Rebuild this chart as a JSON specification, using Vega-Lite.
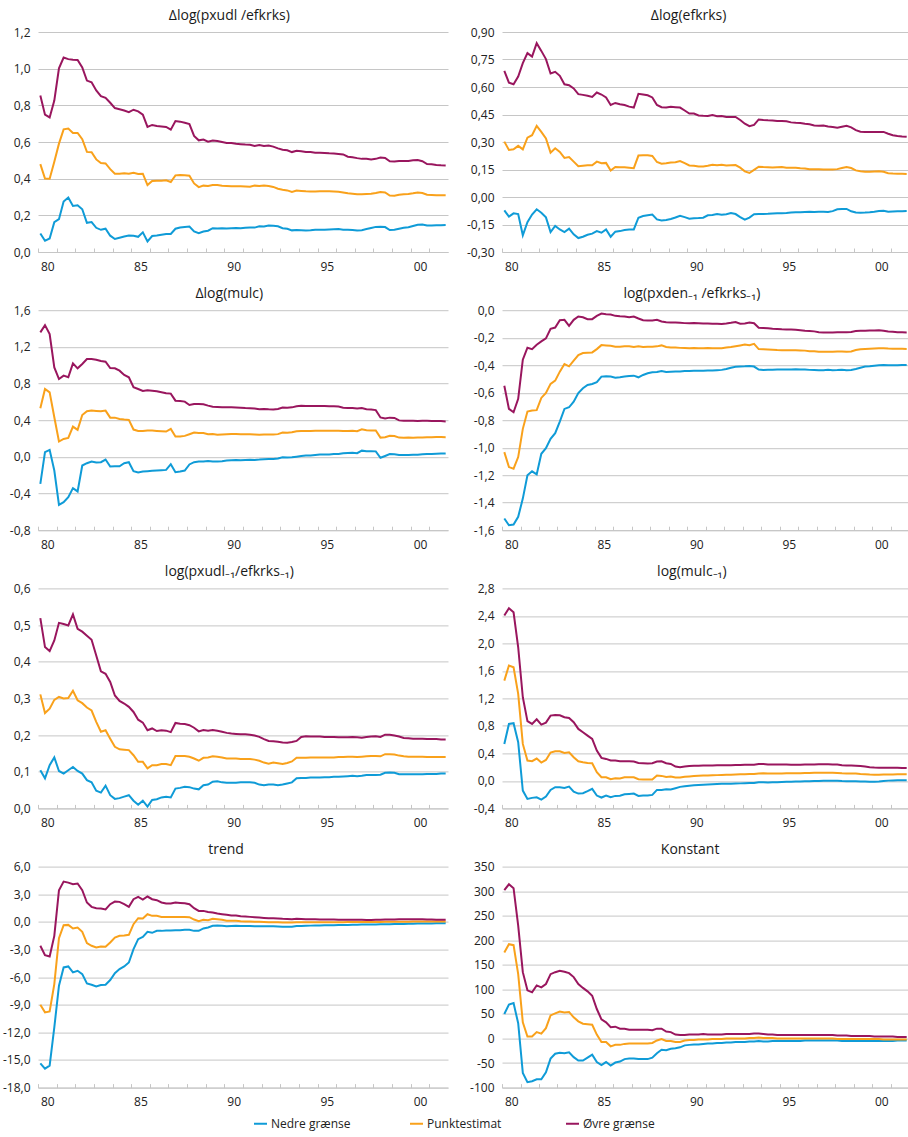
{
"$schema":"https://vega.github.io/schema/vega-lite/v6.json",
"padding":{"left":2,"top":8,"right":0,"bottom":20},
"config":{
"locale":{"number":{"decimal":",","thousands":".","grouping":[3],"currency":["",""],"minus":"-"}},
"font":"Open Sans",
"view":{"stroke":null},
"title":{"fontSize":14,"fontWeight":"normal","color":"#1a1a1a","offset":3.5,"anchor":"middle","frame":"bounds"},
"axisY":{"grid":true,"gridColor":"#c6c6c6","gridWidth":1,"domain":false,"ticks":false,"labelFontSize":12,"labelColor":"#222222","labelPadding":8,"minExtent":29,"maxExtent":29},
"axisX":{"grid":false,"domain":true,"domainColor":"#c6c6c6","ticks":true,"tickColor":"#c6c6c6","tickSize":-4,"labelPadding":13,"labelOffset":9.3,"labelFlush":false,"labelOverlap":false,"labelFontSize":12,"labelColor":"#222222"},
"legend":{"orient":"none","legendX":215,"legendY":1084,"direction":"horizontal","symbolType":"stroke","symbolStrokeWidth":2,"symbolSize":169,"labelFontSize":12,"labelColor":"#222222","labelOffset":3,"columnPadding":55,"gridAlign":"all","title":null}
},
"datasets":{
"a":[
{"t":1980.125,"lo":0.101,"pe":0.479,"hi":0.854},{"t":1980.375,"lo":0.061,"pe":0.401,"hi":0.749},{"t":1980.625,"lo":0.074,"pe":0.400,"hi":0.734},{"t":1980.875,"lo":0.163,"pe":0.492,"hi":0.826},
{"t":1981.125,"lo":0.179,"pe":0.591,"hi":1.002},{"t":1981.375,"lo":0.275,"pe":0.669,"hi":1.061},{"t":1981.625,"lo":0.297,"pe":0.673,"hi":1.052},{"t":1981.875,"lo":0.251,"pe":0.649,"hi":1.049},
{"t":1982.125,"lo":0.255,"pe":0.649,"hi":1.047},{"t":1982.375,"lo":0.233,"pe":0.615,"hi":1.007},{"t":1982.625,"lo":0.159,"pe":0.546,"hi":0.935},{"t":1982.875,"lo":0.163,"pe":0.544,"hi":0.926},
{"t":1983.125,"lo":0.132,"pe":0.505,"hi":0.881},{"t":1983.375,"lo":0.121,"pe":0.485,"hi":0.850},{"t":1983.625,"lo":0.127,"pe":0.483,"hi":0.841},{"t":1983.875,"lo":0.089,"pe":0.452,"hi":0.814},
{"t":1984.125,"lo":0.071,"pe":0.427,"hi":0.785},{"t":1984.375,"lo":0.078,"pe":0.427,"hi":0.779},{"t":1984.625,"lo":0.085,"pe":0.429,"hi":0.772},{"t":1984.875,"lo":0.090,"pe":0.427,"hi":0.763},
{"t":1985.125,"lo":0.089,"pe":0.432,"hi":0.776},{"t":1985.375,"lo":0.083,"pe":0.425,"hi":0.767},{"t":1985.625,"lo":0.107,"pe":0.427,"hi":0.749},{"t":1985.875,"lo":0.058,"pe":0.365,"hi":0.682},
{"t":1986.125,"lo":0.087,"pe":0.387,"hi":0.693},{"t":1986.375,"lo":0.090,"pe":0.389,"hi":0.687},{"t":1986.625,"lo":0.094,"pe":0.389,"hi":0.685},{"t":1986.875,"lo":0.098,"pe":0.391,"hi":0.682},
{"t":1987.125,"lo":0.098,"pe":0.382,"hi":0.667},{"t":1987.375,"lo":0.127,"pe":0.418,"hi":0.714},{"t":1987.625,"lo":0.134,"pe":0.420,"hi":0.711},{"t":1987.875,"lo":0.137,"pe":0.418,"hi":0.705},
{"t":1988.125,"lo":0.139,"pe":0.416,"hi":0.698},{"t":1988.375,"lo":0.112,"pe":0.374,"hi":0.633},{"t":1988.625,"lo":0.103,"pe":0.354,"hi":0.609},{"t":1988.875,"lo":0.112,"pe":0.362,"hi":0.613},
{"t":1989.125,"lo":0.116,"pe":0.360,"hi":0.602},{"t":1989.375,"lo":0.130,"pe":0.365,"hi":0.608},{"t":1989.625,"lo":0.128,"pe":0.366,"hi":0.605},{"t":1989.875,"lo":0.130,"pe":0.362,"hi":0.600},
{"t":1990.125,"lo":0.128,"pe":0.360,"hi":0.595},{"t":1990.375,"lo":0.130,"pe":0.358,"hi":0.595},{"t":1990.625,"lo":0.131,"pe":0.358,"hi":0.590},{"t":1990.875,"lo":0.130,"pe":0.358,"hi":0.588},
{"t":1991.125,"lo":0.132,"pe":0.357,"hi":0.586},{"t":1991.375,"lo":0.134,"pe":0.356,"hi":0.585},{"t":1991.625,"lo":0.133,"pe":0.362,"hi":0.578},{"t":1991.875,"lo":0.140,"pe":0.360,"hi":0.583},
{"t":1992.125,"lo":0.139,"pe":0.363,"hi":0.578},{"t":1992.375,"lo":0.145,"pe":0.360,"hi":0.581},{"t":1992.625,"lo":0.143,"pe":0.355,"hi":0.575},{"t":1992.875,"lo":0.140,"pe":0.345,"hi":0.565},
{"t":1993.125,"lo":0.130,"pe":0.340,"hi":0.558},{"t":1993.375,"lo":0.127,"pe":0.336,"hi":0.555},{"t":1993.625,"lo":0.118,"pe":0.328,"hi":0.545},{"t":1993.875,"lo":0.120,"pe":0.335,"hi":0.552},
{"t":1994.125,"lo":0.119,"pe":0.333,"hi":0.550},{"t":1994.375,"lo":0.117,"pe":0.331,"hi":0.546},{"t":1994.625,"lo":0.118,"pe":0.330,"hi":0.545},{"t":1994.875,"lo":0.121,"pe":0.330,"hi":0.542},
{"t":1995.125,"lo":0.122,"pe":0.332,"hi":0.541},{"t":1995.375,"lo":0.122,"pe":0.331,"hi":0.540},{"t":1995.625,"lo":0.123,"pe":0.331,"hi":0.538},{"t":1995.875,"lo":0.124,"pe":0.330,"hi":0.537},
{"t":1996.125,"lo":0.125,"pe":0.329,"hi":0.535},{"t":1996.375,"lo":0.122,"pe":0.325,"hi":0.532},{"t":1996.625,"lo":0.122,"pe":0.320,"hi":0.520},{"t":1996.875,"lo":0.120,"pe":0.318,"hi":0.517},
{"t":1997.125,"lo":0.117,"pe":0.315,"hi":0.512},{"t":1997.375,"lo":0.119,"pe":0.315,"hi":0.508},{"t":1997.625,"lo":0.125,"pe":0.317,"hi":0.508},{"t":1997.875,"lo":0.131,"pe":0.318,"hi":0.505},
{"t":1998.125,"lo":0.137,"pe":0.322,"hi":0.508},{"t":1998.375,"lo":0.138,"pe":0.327,"hi":0.515},{"t":1998.625,"lo":0.136,"pe":0.325,"hi":0.513},{"t":1998.875,"lo":0.120,"pe":0.308,"hi":0.495},
{"t":1999.125,"lo":0.121,"pe":0.307,"hi":0.494},{"t":1999.375,"lo":0.127,"pe":0.312,"hi":0.497},{"t":1999.625,"lo":0.132,"pe":0.315,"hi":0.497},{"t":1999.875,"lo":0.135,"pe":0.316,"hi":0.497},
{"t":2000.125,"lo":0.142,"pe":0.320,"hi":0.500},{"t":2000.375,"lo":0.149,"pe":0.325,"hi":0.502},{"t":2000.625,"lo":0.150,"pe":0.322,"hi":0.495},{"t":2000.875,"lo":0.145,"pe":0.312,"hi":0.480},
{"t":2001.125,"lo":0.145,"pe":0.311,"hi":0.478},{"t":2001.375,"lo":0.146,"pe":0.310,"hi":0.475},{"t":2001.625,"lo":0.146,"pe":0.310,"hi":0.473},{"t":2001.875,"lo":0.147,"pe":0.310,"hi":0.472}
],
"b":[
{"t":1980.125,"lo":-0.073,"pe":0.302,"hi":0.688},{"t":1980.375,"lo":-0.107,"pe":0.257,"hi":0.624},{"t":1980.625,"lo":-0.089,"pe":0.260,"hi":0.615},{"t":1980.875,"lo":-0.093,"pe":0.279,"hi":0.657},
{"t":1981.125,"lo":-0.209,"pe":0.260,"hi":0.730},{"t":1981.375,"lo":-0.137,"pe":0.324,"hi":0.785},{"t":1981.625,"lo":-0.096,"pe":0.337,"hi":0.766},{"t":1981.875,"lo":-0.067,"pe":0.388,"hi":0.839},
{"t":1982.125,"lo":-0.086,"pe":0.355,"hi":0.797},{"t":1982.375,"lo":-0.111,"pe":0.320,"hi":0.752},{"t":1982.625,"lo":-0.191,"pe":0.242,"hi":0.674},{"t":1982.875,"lo":-0.158,"pe":0.266,"hi":0.683},
{"t":1983.125,"lo":-0.177,"pe":0.246,"hi":0.661},{"t":1983.375,"lo":-0.191,"pe":0.213,"hi":0.615},{"t":1983.625,"lo":-0.173,"pe":0.218,"hi":0.610},{"t":1983.875,"lo":-0.204,"pe":0.193,"hi":0.592},
{"t":1984.125,"lo":-0.224,"pe":0.168,"hi":0.561},{"t":1984.375,"lo":-0.217,"pe":0.171,"hi":0.557},{"t":1984.625,"lo":-0.206,"pe":0.173,"hi":0.552},{"t":1984.875,"lo":-0.200,"pe":0.173,"hi":0.546},
{"t":1985.125,"lo":-0.186,"pe":0.193,"hi":0.570},{"t":1985.375,"lo":-0.195,"pe":0.184,"hi":0.559},{"t":1985.625,"lo":-0.177,"pe":0.186,"hi":0.543},{"t":1985.875,"lo":-0.217,"pe":0.144,"hi":0.502},
{"t":1986.125,"lo":-0.189,"pe":0.164,"hi":0.513},{"t":1986.375,"lo":-0.186,"pe":0.162,"hi":0.506},{"t":1986.625,"lo":-0.180,"pe":0.162,"hi":0.502},{"t":1986.875,"lo":-0.177,"pe":0.160,"hi":0.493},
{"t":1987.125,"lo":-0.177,"pe":0.157,"hi":0.488},{"t":1987.375,"lo":-0.113,"pe":0.226,"hi":0.563},{"t":1987.625,"lo":-0.104,"pe":0.228,"hi":0.559},{"t":1987.875,"lo":-0.100,"pe":0.228,"hi":0.555},
{"t":1988.125,"lo":-0.096,"pe":0.224,"hi":0.543},{"t":1988.375,"lo":-0.122,"pe":0.191,"hi":0.502},{"t":1988.625,"lo":-0.128,"pe":0.182,"hi":0.490},{"t":1988.875,"lo":-0.125,"pe":0.184,"hi":0.488},
{"t":1989.125,"lo":-0.120,"pe":0.188,"hi":0.492},{"t":1989.375,"lo":-0.112,"pe":0.190,"hi":0.490},{"t":1989.625,"lo":-0.102,"pe":0.196,"hi":0.488},{"t":1989.875,"lo":-0.110,"pe":0.185,"hi":0.472},
{"t":1990.125,"lo":-0.118,"pe":0.172,"hi":0.455},{"t":1990.375,"lo":-0.116,"pe":0.170,"hi":0.455},{"t":1990.625,"lo":-0.115,"pe":0.166,"hi":0.445},{"t":1990.875,"lo":-0.113,"pe":0.167,"hi":0.443},
{"t":1991.125,"lo":-0.100,"pe":0.170,"hi":0.442},{"t":1991.375,"lo":-0.098,"pe":0.176,"hi":0.447},{"t":1991.625,"lo":-0.093,"pe":0.173,"hi":0.440},{"t":1991.875,"lo":-0.097,"pe":0.176,"hi":0.442},
{"t":1992.125,"lo":-0.094,"pe":0.172,"hi":0.436},{"t":1992.375,"lo":-0.088,"pe":0.173,"hi":0.437},{"t":1992.625,"lo":-0.093,"pe":0.174,"hi":0.437},{"t":1992.875,"lo":-0.110,"pe":0.160,"hi":0.420},
{"t":1993.125,"lo":-0.124,"pe":0.140,"hi":0.400},{"t":1993.375,"lo":-0.112,"pe":0.131,"hi":0.386},{"t":1993.625,"lo":-0.094,"pe":0.148,"hi":0.393},{"t":1993.875,"lo":-0.093,"pe":0.165,"hi":0.423},
{"t":1994.125,"lo":-0.093,"pe":0.163,"hi":0.420},{"t":1994.375,"lo":-0.092,"pe":0.162,"hi":0.418},{"t":1994.625,"lo":-0.090,"pe":0.161,"hi":0.417},{"t":1994.875,"lo":-0.089,"pe":0.162,"hi":0.415},
{"t":1995.125,"lo":-0.088,"pe":0.163,"hi":0.414},{"t":1995.375,"lo":-0.087,"pe":0.160,"hi":0.413},{"t":1995.625,"lo":-0.085,"pe":0.160,"hi":0.407},{"t":1995.875,"lo":-0.083,"pe":0.160,"hi":0.405},
{"t":1996.125,"lo":-0.083,"pe":0.157,"hi":0.404},{"t":1996.375,"lo":-0.082,"pe":0.155,"hi":0.400},{"t":1996.625,"lo":-0.081,"pe":0.151,"hi":0.397},{"t":1996.875,"lo":-0.082,"pe":0.152,"hi":0.390},
{"t":1997.125,"lo":-0.081,"pe":0.152,"hi":0.388},{"t":1997.375,"lo":-0.080,"pe":0.150,"hi":0.390},{"t":1997.625,"lo":-0.082,"pe":0.150,"hi":0.385},{"t":1997.875,"lo":-0.077,"pe":0.150,"hi":0.382},
{"t":1998.125,"lo":-0.067,"pe":0.152,"hi":0.378},{"t":1998.375,"lo":-0.065,"pe":0.158,"hi":0.383},{"t":1998.625,"lo":-0.065,"pe":0.163,"hi":0.388},{"t":1998.875,"lo":-0.078,"pe":0.158,"hi":0.380},
{"t":1999.125,"lo":-0.085,"pe":0.145,"hi":0.365},{"t":1999.375,"lo":-0.086,"pe":0.140,"hi":0.356},{"t":1999.625,"lo":-0.085,"pe":0.138,"hi":0.355},{"t":1999.875,"lo":-0.083,"pe":0.138,"hi":0.355},
{"t":2000.125,"lo":-0.080,"pe":0.139,"hi":0.354},{"t":2000.375,"lo":-0.076,"pe":0.140,"hi":0.355},{"t":2000.625,"lo":-0.075,"pe":0.138,"hi":0.355},{"t":2000.875,"lo":-0.080,"pe":0.130,"hi":0.345},
{"t":2001.125,"lo":-0.079,"pe":0.128,"hi":0.337},{"t":2001.375,"lo":-0.078,"pe":0.127,"hi":0.333},{"t":2001.625,"lo":-0.078,"pe":0.127,"hi":0.330},{"t":2001.875,"lo":-0.077,"pe":0.126,"hi":0.328}
],
"c":[
{"t":1980.125,"lo":-0.294,"pe":0.530,"hi":1.358},{"t":1980.375,"lo":0.051,"pe":0.740,"hi":1.437},{"t":1980.625,"lo":0.076,"pe":0.704,"hi":1.339},{"t":1980.875,"lo":-0.149,"pe":0.432,"hi":0.976},
{"t":1981.125,"lo":-0.523,"pe":0.167,"hi":0.849},{"t":1981.375,"lo":-0.494,"pe":0.196,"hi":0.886},{"t":1981.625,"lo":-0.439,"pe":0.207,"hi":0.868},{"t":1981.875,"lo":-0.341,"pe":0.330,"hi":1.020},
{"t":1982.125,"lo":-0.377,"pe":0.294,"hi":0.966},{"t":1982.375,"lo":-0.094,"pe":0.457,"hi":1.013},{"t":1982.625,"lo":-0.069,"pe":0.497,"hi":1.067},{"t":1982.875,"lo":-0.051,"pe":0.505,"hi":1.067},
{"t":1983.125,"lo":-0.062,"pe":0.501,"hi":1.060},{"t":1983.375,"lo":-0.058,"pe":0.497,"hi":1.045},{"t":1983.625,"lo":-0.029,"pe":0.505,"hi":1.038},{"t":1983.875,"lo":-0.105,"pe":0.428,"hi":0.969},
{"t":1984.125,"lo":-0.102,"pe":0.428,"hi":0.966},{"t":1984.375,"lo":-0.102,"pe":0.414,"hi":0.940},{"t":1984.625,"lo":-0.069,"pe":0.407,"hi":0.893},{"t":1984.875,"lo":-0.058,"pe":0.403,"hi":0.868},
{"t":1985.125,"lo":-0.156,"pe":0.298,"hi":0.759},{"t":1985.375,"lo":-0.171,"pe":0.283,"hi":0.740},{"t":1985.625,"lo":-0.160,"pe":0.283,"hi":0.719},{"t":1985.875,"lo":-0.156,"pe":0.287,"hi":0.726},
{"t":1986.125,"lo":-0.152,"pe":0.287,"hi":0.722},{"t":1986.375,"lo":-0.149,"pe":0.283,"hi":0.715},{"t":1986.625,"lo":-0.145,"pe":0.279,"hi":0.704},{"t":1986.875,"lo":-0.142,"pe":0.276,"hi":0.693},
{"t":1987.125,"lo":-0.080,"pe":0.305,"hi":0.690},{"t":1987.375,"lo":-0.167,"pe":0.221,"hi":0.613},{"t":1987.625,"lo":-0.160,"pe":0.221,"hi":0.610},{"t":1987.875,"lo":-0.149,"pe":0.229,"hi":0.603},
{"t":1988.125,"lo":-0.083,"pe":0.247,"hi":0.566},{"t":1988.375,"lo":-0.058,"pe":0.265,"hi":0.577},{"t":1988.625,"lo":-0.051,"pe":0.261,"hi":0.577},{"t":1988.875,"lo":-0.051,"pe":0.261,"hi":0.573},
{"t":1989.125,"lo":-0.044,"pe":0.247,"hi":0.559},{"t":1989.375,"lo":-0.051,"pe":0.250,"hi":0.548},{"t":1989.625,"lo":-0.050,"pe":0.242,"hi":0.545},{"t":1989.875,"lo":-0.047,"pe":0.245,"hi":0.540},
{"t":1990.125,"lo":-0.040,"pe":0.248,"hi":0.541},{"t":1990.375,"lo":-0.036,"pe":0.250,"hi":0.541},{"t":1990.625,"lo":-0.035,"pe":0.250,"hi":0.538},{"t":1990.875,"lo":-0.036,"pe":0.248,"hi":0.536},
{"t":1991.125,"lo":-0.034,"pe":0.246,"hi":0.532},{"t":1991.375,"lo":-0.032,"pe":0.247,"hi":0.530},{"t":1991.625,"lo":-0.033,"pe":0.245,"hi":0.528},{"t":1991.875,"lo":-0.030,"pe":0.240,"hi":0.520},
{"t":1992.125,"lo":-0.025,"pe":0.245,"hi":0.522},{"t":1992.375,"lo":-0.024,"pe":0.243,"hi":0.519},{"t":1992.625,"lo":-0.022,"pe":0.245,"hi":0.518},{"t":1992.875,"lo":-0.018,"pe":0.248,"hi":0.522},
{"t":1993.125,"lo":-0.005,"pe":0.266,"hi":0.538},{"t":1993.375,"lo":-0.008,"pe":0.262,"hi":0.536},{"t":1993.625,"lo":-0.005,"pe":0.268,"hi":0.540},{"t":1993.875,"lo":0.002,"pe":0.280,"hi":0.553},
{"t":1994.125,"lo":0.010,"pe":0.283,"hi":0.557},{"t":1994.375,"lo":0.014,"pe":0.283,"hi":0.556},{"t":1994.625,"lo":0.016,"pe":0.283,"hi":0.556},{"t":1994.875,"lo":0.020,"pe":0.284,"hi":0.555},
{"t":1995.125,"lo":0.025,"pe":0.285,"hi":0.556},{"t":1995.375,"lo":0.026,"pe":0.285,"hi":0.555},{"t":1995.625,"lo":0.027,"pe":0.285,"hi":0.553},{"t":1995.875,"lo":0.030,"pe":0.284,"hi":0.551},
{"t":1996.125,"lo":0.032,"pe":0.285,"hi":0.550},{"t":1996.375,"lo":0.040,"pe":0.283,"hi":0.537},{"t":1996.625,"lo":0.042,"pe":0.282,"hi":0.533},{"t":1996.875,"lo":0.044,"pe":0.284,"hi":0.532},
{"t":1997.125,"lo":0.040,"pe":0.280,"hi":0.529},{"t":1997.375,"lo":0.068,"pe":0.300,"hi":0.533},{"t":1997.625,"lo":0.062,"pe":0.290,"hi":0.520},{"t":1997.875,"lo":0.062,"pe":0.288,"hi":0.516},
{"t":1998.125,"lo":0.060,"pe":0.287,"hi":0.510},{"t":1998.375,"lo":-0.010,"pe":0.210,"hi":0.430},{"t":1998.625,"lo":0.010,"pe":0.215,"hi":0.418},{"t":1998.875,"lo":0.030,"pe":0.230,"hi":0.428},
{"t":1999.125,"lo":0.028,"pe":0.228,"hi":0.425},{"t":1999.375,"lo":0.020,"pe":0.210,"hi":0.398},{"t":1999.625,"lo":0.020,"pe":0.208,"hi":0.395},{"t":1999.875,"lo":0.020,"pe":0.210,"hi":0.395},
{"t":2000.125,"lo":0.022,"pe":0.208,"hi":0.394},{"t":2000.375,"lo":0.023,"pe":0.210,"hi":0.392},{"t":2000.625,"lo":0.028,"pe":0.212,"hi":0.393},{"t":2000.875,"lo":0.030,"pe":0.214,"hi":0.393},
{"t":2001.125,"lo":0.032,"pe":0.215,"hi":0.392},{"t":2001.375,"lo":0.034,"pe":0.216,"hi":0.391},{"t":2001.625,"lo":0.036,"pe":0.216,"hi":0.390},{"t":2001.875,"lo":0.038,"pe":0.215,"hi":0.386}
],
"d":[
{"t":1980.125,"lo":-1.515,"pe":-1.032,"hi":-0.549},{"t":1980.375,"lo":-1.564,"pe":-1.141,"hi":-0.718},{"t":1980.625,"lo":-1.559,"pe":-1.153,"hi":-0.742},{"t":1980.875,"lo":-1.503,"pe":-1.068,"hi":-0.645},
{"t":1981.125,"lo":-1.370,"pe":-0.863,"hi":-0.360},{"t":1981.375,"lo":-1.201,"pe":-0.737,"hi":-0.273},{"t":1981.625,"lo":-1.172,"pe":-0.730,"hi":-0.283},{"t":1981.875,"lo":-1.194,"pe":-0.727,"hi":-0.251},
{"t":1982.125,"lo":-1.044,"pe":-0.638,"hi":-0.227},{"t":1982.375,"lo":-1.003,"pe":-0.602,"hi":-0.205},{"t":1982.625,"lo":-0.935,"pe":-0.536,"hi":-0.135},{"t":1982.875,"lo":-0.894,"pe":-0.512,"hi":-0.126},
{"t":1983.125,"lo":-0.810,"pe":-0.447,"hi":-0.073},{"t":1983.375,"lo":-0.718,"pe":-0.392,"hi":-0.070},{"t":1983.625,"lo":-0.706,"pe":-0.408,"hi":-0.114},{"t":1983.875,"lo":-0.665,"pe":-0.367,"hi":-0.070},
{"t":1984.125,"lo":-0.602,"pe":-0.326,"hi":-0.046},{"t":1984.375,"lo":-0.568,"pe":-0.312,"hi":-0.051},{"t":1984.625,"lo":-0.544,"pe":-0.309,"hi":-0.065},{"t":1984.875,"lo":-0.537,"pe":-0.307,"hi":-0.065},
{"t":1985.125,"lo":-0.524,"pe":-0.283,"hi":-0.041},{"t":1985.375,"lo":-0.483,"pe":-0.254,"hi":-0.024},{"t":1985.625,"lo":-0.481,"pe":-0.256,"hi":-0.029},{"t":1985.875,"lo":-0.483,"pe":-0.259,"hi":-0.031},
{"t":1986.125,"lo":-0.491,"pe":-0.266,"hi":-0.041},{"t":1986.375,"lo":-0.488,"pe":-0.266,"hi":-0.044},{"t":1986.625,"lo":-0.483,"pe":-0.263,"hi":-0.046},{"t":1986.875,"lo":-0.479,"pe":-0.263,"hi":-0.051},
{"t":1987.125,"lo":-0.476,"pe":-0.268,"hi":-0.046},{"t":1987.375,"lo":-0.488,"pe":-0.263,"hi":-0.060},{"t":1987.625,"lo":-0.471,"pe":-0.268,"hi":-0.073},{"t":1987.875,"lo":-0.459,"pe":-0.266,"hi":-0.075},
{"t":1988.125,"lo":-0.452,"pe":-0.266,"hi":-0.075},{"t":1988.375,"lo":-0.450,"pe":-0.263,"hi":-0.070},{"t":1988.625,"lo":-0.442,"pe":-0.256,"hi":-0.082},{"t":1988.875,"lo":-0.450,"pe":-0.268,"hi":-0.087},
{"t":1989.125,"lo":-0.447,"pe":-0.271,"hi":-0.089},{"t":1989.375,"lo":-0.446,"pe":-0.272,"hi":-0.090},{"t":1989.625,"lo":-0.445,"pe":-0.274,"hi":-0.092},{"t":1989.875,"lo":-0.443,"pe":-0.275,"hi":-0.094},
{"t":1990.125,"lo":-0.442,"pe":-0.276,"hi":-0.095},{"t":1990.375,"lo":-0.441,"pe":-0.275,"hi":-0.094},{"t":1990.625,"lo":-0.440,"pe":-0.276,"hi":-0.095},{"t":1990.875,"lo":-0.440,"pe":-0.276,"hi":-0.096},
{"t":1991.125,"lo":-0.439,"pe":-0.275,"hi":-0.097},{"t":1991.375,"lo":-0.438,"pe":-0.276,"hi":-0.098},{"t":1991.625,"lo":-0.436,"pe":-0.277,"hi":-0.099},{"t":1991.875,"lo":-0.434,"pe":-0.276,"hi":-0.100},
{"t":1992.125,"lo":-0.428,"pe":-0.272,"hi":-0.097},{"t":1992.375,"lo":-0.418,"pe":-0.268,"hi":-0.092},{"t":1992.625,"lo":-0.412,"pe":-0.262,"hi":-0.086},{"t":1992.875,"lo":-0.410,"pe":-0.256,"hi":-0.098},
{"t":1993.125,"lo":-0.408,"pe":-0.250,"hi":-0.096},{"t":1993.375,"lo":-0.405,"pe":-0.255,"hi":-0.090},{"t":1993.625,"lo":-0.410,"pe":-0.245,"hi":-0.095},{"t":1993.875,"lo":-0.432,"pe":-0.283,"hi":-0.128},
{"t":1994.125,"lo":-0.434,"pe":-0.284,"hi":-0.129},{"t":1994.375,"lo":-0.433,"pe":-0.286,"hi":-0.132},{"t":1994.625,"lo":-0.433,"pe":-0.288,"hi":-0.135},{"t":1994.875,"lo":-0.432,"pe":-0.290,"hi":-0.137},
{"t":1995.125,"lo":-0.432,"pe":-0.291,"hi":-0.139},{"t":1995.375,"lo":-0.431,"pe":-0.292,"hi":-0.140},{"t":1995.625,"lo":-0.431,"pe":-0.292,"hi":-0.141},{"t":1995.875,"lo":-0.430,"pe":-0.292,"hi":-0.143},
{"t":1996.125,"lo":-0.432,"pe":-0.293,"hi":-0.145},{"t":1996.375,"lo":-0.432,"pe":-0.294,"hi":-0.150},{"t":1996.625,"lo":-0.434,"pe":-0.298,"hi":-0.152},{"t":1996.875,"lo":-0.435,"pe":-0.298,"hi":-0.154},
{"t":1997.125,"lo":-0.436,"pe":-0.302,"hi":-0.160},{"t":1997.375,"lo":-0.436,"pe":-0.303,"hi":-0.162},{"t":1997.625,"lo":-0.434,"pe":-0.302,"hi":-0.163},{"t":1997.875,"lo":-0.436,"pe":-0.302,"hi":-0.162},
{"t":1998.125,"lo":-0.435,"pe":-0.301,"hi":-0.161},{"t":1998.375,"lo":-0.433,"pe":-0.300,"hi":-0.160},{"t":1998.625,"lo":-0.436,"pe":-0.302,"hi":-0.161},{"t":1998.875,"lo":-0.435,"pe":-0.300,"hi":-0.158},
{"t":1999.125,"lo":-0.428,"pe":-0.290,"hi":-0.152},{"t":1999.375,"lo":-0.418,"pe":-0.284,"hi":-0.150},{"t":1999.625,"lo":-0.410,"pe":-0.282,"hi":-0.149},{"t":1999.875,"lo":-0.408,"pe":-0.280,"hi":-0.148},
{"t":2000.125,"lo":-0.404,"pe":-0.278,"hi":-0.147},{"t":2000.375,"lo":-0.400,"pe":-0.276,"hi":-0.145},{"t":2000.625,"lo":-0.398,"pe":-0.276,"hi":-0.150},{"t":2000.875,"lo":-0.400,"pe":-0.279,"hi":-0.155},
{"t":2001.125,"lo":-0.400,"pe":-0.280,"hi":-0.157},{"t":2001.375,"lo":-0.400,"pe":-0.281,"hi":-0.160},{"t":2001.625,"lo":-0.399,"pe":-0.281,"hi":-0.161},{"t":2001.875,"lo":-0.398,"pe":-0.282,"hi":-0.162}
],
"e":[
{"t":1980.125,"lo":0.104,"pe":0.311,"hi":0.519},{"t":1980.375,"lo":0.082,"pe":0.260,"hi":0.440},{"t":1980.625,"lo":0.118,"pe":0.272,"hi":0.429},{"t":1980.875,"lo":0.139,"pe":0.296,"hi":0.458},
{"t":1981.125,"lo":0.102,"pe":0.304,"hi":0.506},{"t":1981.375,"lo":0.095,"pe":0.300,"hi":0.503},{"t":1981.625,"lo":0.104,"pe":0.301,"hi":0.499},{"t":1981.875,"lo":0.113,"pe":0.321,"hi":0.529},
{"t":1982.125,"lo":0.102,"pe":0.295,"hi":0.490},{"t":1982.375,"lo":0.095,"pe":0.287,"hi":0.482},{"t":1982.625,"lo":0.077,"pe":0.275,"hi":0.471},{"t":1982.875,"lo":0.071,"pe":0.267,"hi":0.460},
{"t":1983.125,"lo":0.048,"pe":0.236,"hi":0.417},{"t":1983.375,"lo":0.043,"pe":0.209,"hi":0.374},{"t":1983.625,"lo":0.062,"pe":0.213,"hi":0.367},{"t":1983.875,"lo":0.036,"pe":0.190,"hi":0.345},
{"t":1984.125,"lo":0.026,"pe":0.168,"hi":0.308},{"t":1984.375,"lo":0.028,"pe":0.161,"hi":0.293},{"t":1984.625,"lo":0.032,"pe":0.160,"hi":0.286},{"t":1984.875,"lo":0.036,"pe":0.159,"hi":0.277},
{"t":1985.125,"lo":0.021,"pe":0.145,"hi":0.263},{"t":1985.375,"lo":0.010,"pe":0.127,"hi":0.242},{"t":1985.625,"lo":0.021,"pe":0.127,"hi":0.234},{"t":1985.875,"lo":0.005,"pe":0.109,"hi":0.213},
{"t":1986.125,"lo":0.023,"pe":0.118,"hi":0.218},{"t":1986.375,"lo":0.025,"pe":0.118,"hi":0.211},{"t":1986.625,"lo":0.030,"pe":0.121,"hi":0.213},{"t":1986.875,"lo":0.032,"pe":0.121,"hi":0.212},
{"t":1987.125,"lo":0.030,"pe":0.118,"hi":0.208},{"t":1987.375,"lo":0.054,"pe":0.143,"hi":0.233},{"t":1987.625,"lo":0.056,"pe":0.143,"hi":0.231},{"t":1987.875,"lo":0.059,"pe":0.143,"hi":0.230},
{"t":1988.125,"lo":0.058,"pe":0.141,"hi":0.227},{"t":1988.375,"lo":0.054,"pe":0.136,"hi":0.220},{"t":1988.625,"lo":0.052,"pe":0.130,"hi":0.210},{"t":1988.875,"lo":0.063,"pe":0.138,"hi":0.214},
{"t":1989.125,"lo":0.065,"pe":0.139,"hi":0.212},{"t":1989.375,"lo":0.073,"pe":0.142,"hi":0.214},{"t":1989.625,"lo":0.074,"pe":0.141,"hi":0.212},{"t":1989.875,"lo":0.071,"pe":0.139,"hi":0.209},
{"t":1990.125,"lo":0.070,"pe":0.136,"hi":0.206},{"t":1990.375,"lo":0.070,"pe":0.136,"hi":0.204},{"t":1990.625,"lo":0.070,"pe":0.136,"hi":0.203},{"t":1990.875,"lo":0.071,"pe":0.135,"hi":0.202},
{"t":1991.125,"lo":0.071,"pe":0.135,"hi":0.202},{"t":1991.375,"lo":0.071,"pe":0.135,"hi":0.201},{"t":1991.625,"lo":0.070,"pe":0.133,"hi":0.199},{"t":1991.875,"lo":0.065,"pe":0.130,"hi":0.195},
{"t":1992.125,"lo":0.063,"pe":0.125,"hi":0.189},{"t":1992.375,"lo":0.065,"pe":0.122,"hi":0.184},{"t":1992.625,"lo":0.065,"pe":0.125,"hi":0.183},{"t":1992.875,"lo":0.063,"pe":0.123,"hi":0.182},
{"t":1993.125,"lo":0.065,"pe":0.121,"hi":0.180},{"t":1993.375,"lo":0.068,"pe":0.124,"hi":0.179},{"t":1993.625,"lo":0.071,"pe":0.128,"hi":0.181},{"t":1993.875,"lo":0.082,"pe":0.138,"hi":0.184},
{"t":1994.125,"lo":0.083,"pe":0.138,"hi":0.195},{"t":1994.375,"lo":0.083,"pe":0.138,"hi":0.197},{"t":1994.625,"lo":0.084,"pe":0.139,"hi":0.196},{"t":1994.875,"lo":0.084,"pe":0.139,"hi":0.196},
{"t":1995.125,"lo":0.084,"pe":0.139,"hi":0.196},{"t":1995.375,"lo":0.085,"pe":0.139,"hi":0.195},{"t":1995.625,"lo":0.085,"pe":0.139,"hi":0.195},{"t":1995.875,"lo":0.086,"pe":0.139,"hi":0.195},
{"t":1996.125,"lo":0.086,"pe":0.140,"hi":0.194},{"t":1996.375,"lo":0.087,"pe":0.140,"hi":0.194},{"t":1996.625,"lo":0.088,"pe":0.141,"hi":0.194},{"t":1996.875,"lo":0.089,"pe":0.141,"hi":0.195},
{"t":1997.125,"lo":0.088,"pe":0.140,"hi":0.194},{"t":1997.375,"lo":0.089,"pe":0.141,"hi":0.193},{"t":1997.625,"lo":0.091,"pe":0.142,"hi":0.195},{"t":1997.875,"lo":0.091,"pe":0.143,"hi":0.196},
{"t":1998.125,"lo":0.091,"pe":0.143,"hi":0.197},{"t":1998.375,"lo":0.092,"pe":0.142,"hi":0.195},{"t":1998.625,"lo":0.097,"pe":0.148,"hi":0.201},{"t":1998.875,"lo":0.098,"pe":0.148,"hi":0.201},
{"t":1999.125,"lo":0.097,"pe":0.147,"hi":0.199},{"t":1999.375,"lo":0.093,"pe":0.144,"hi":0.196},{"t":1999.625,"lo":0.093,"pe":0.142,"hi":0.192},{"t":1999.875,"lo":0.093,"pe":0.141,"hi":0.191},
{"t":2000.125,"lo":0.093,"pe":0.141,"hi":0.190},{"t":2000.375,"lo":0.093,"pe":0.141,"hi":0.190},{"t":2000.625,"lo":0.093,"pe":0.141,"hi":0.190},{"t":2000.875,"lo":0.094,"pe":0.140,"hi":0.189},
{"t":2001.125,"lo":0.094,"pe":0.140,"hi":0.189},{"t":2001.375,"lo":0.094,"pe":0.140,"hi":0.189},{"t":2001.625,"lo":0.095,"pe":0.140,"hi":0.188},{"t":2001.875,"lo":0.095,"pe":0.140,"hi":0.188}
],
"f":[
{"t":1980.125,"lo":0.538,"pe":1.459,"hi":2.405},{"t":1980.375,"lo":0.829,"pe":1.678,"hi":2.512},{"t":1980.625,"lo":0.839,"pe":1.653,"hi":2.453},{"t":1980.875,"lo":0.562,"pe":1.265,"hi":1.944},
{"t":1981.125,"lo":-0.141,"pe":0.538,"hi":1.217},{"t":1981.375,"lo":-0.262,"pe":0.296,"hi":0.868},{"t":1981.625,"lo":-0.247,"pe":0.286,"hi":0.829},{"t":1981.875,"lo":-0.238,"pe":0.325,"hi":0.897},
{"t":1982.125,"lo":-0.272,"pe":0.267,"hi":0.819},{"t":1982.375,"lo":-0.228,"pe":0.305,"hi":0.848},{"t":1982.625,"lo":-0.131,"pe":0.412,"hi":0.950},{"t":1982.875,"lo":-0.092,"pe":0.432,"hi":0.960},
{"t":1983.125,"lo":-0.092,"pe":0.432,"hi":0.955},{"t":1983.375,"lo":-0.102,"pe":0.407,"hi":0.926},{"t":1983.625,"lo":-0.082,"pe":0.417,"hi":0.916},{"t":1983.875,"lo":-0.155,"pe":0.344,"hi":0.853},
{"t":1984.125,"lo":-0.184,"pe":0.286,"hi":0.756},{"t":1984.375,"lo":-0.179,"pe":0.272,"hi":0.708},{"t":1984.625,"lo":-0.150,"pe":0.262,"hi":0.659},{"t":1984.875,"lo":-0.116,"pe":0.257,"hi":0.611},
{"t":1985.125,"lo":-0.213,"pe":0.126,"hi":0.441},{"t":1985.375,"lo":-0.242,"pe":0.053,"hi":0.335},{"t":1985.625,"lo":-0.213,"pe":0.053,"hi":0.320},{"t":1985.875,"lo":-0.238,"pe":0.024,"hi":0.296},
{"t":1986.125,"lo":-0.218,"pe":0.039,"hi":0.296},{"t":1986.375,"lo":-0.215,"pe":0.034,"hi":0.286},{"t":1986.625,"lo":-0.194,"pe":0.053,"hi":0.286},{"t":1986.875,"lo":-0.189,"pe":0.053,"hi":0.286},
{"t":1987.125,"lo":-0.184,"pe":0.053,"hi":0.281},{"t":1987.375,"lo":-0.218,"pe":0.024,"hi":0.262},{"t":1987.625,"lo":-0.213,"pe":0.019,"hi":0.257},{"t":1987.875,"lo":-0.213,"pe":0.019,"hi":0.252},
{"t":1988.125,"lo":-0.204,"pe":0.019,"hi":0.257},{"t":1988.375,"lo":-0.131,"pe":0.078,"hi":0.281},{"t":1988.625,"lo":-0.131,"pe":0.073,"hi":0.286},{"t":1988.875,"lo":-0.121,"pe":0.058,"hi":0.257},
{"t":1989.125,"lo":-0.126,"pe":0.063,"hi":0.247},{"t":1989.375,"lo":-0.107,"pe":0.048,"hi":0.208},{"t":1989.625,"lo":-0.087,"pe":0.048,"hi":0.199},{"t":1989.875,"lo":-0.078,"pe":0.060,"hi":0.208},
{"t":1990.125,"lo":-0.070,"pe":0.065,"hi":0.215},{"t":1990.375,"lo":-0.065,"pe":0.070,"hi":0.220},{"t":1990.625,"lo":-0.060,"pe":0.074,"hi":0.222},{"t":1990.875,"lo":-0.056,"pe":0.077,"hi":0.223},
{"t":1991.125,"lo":-0.052,"pe":0.080,"hi":0.224},{"t":1991.375,"lo":-0.049,"pe":0.082,"hi":0.225},{"t":1991.625,"lo":-0.046,"pe":0.084,"hi":0.226},{"t":1991.875,"lo":-0.043,"pe":0.086,"hi":0.227},
{"t":1992.125,"lo":-0.041,"pe":0.088,"hi":0.228},{"t":1992.375,"lo":-0.040,"pe":0.090,"hi":0.229},{"t":1992.625,"lo":-0.038,"pe":0.092,"hi":0.230},{"t":1992.875,"lo":-0.036,"pe":0.095,"hi":0.232},
{"t":1993.125,"lo":-0.034,"pe":0.097,"hi":0.234},{"t":1993.375,"lo":-0.032,"pe":0.099,"hi":0.236},{"t":1993.625,"lo":-0.030,"pe":0.100,"hi":0.235},{"t":1993.875,"lo":-0.020,"pe":0.108,"hi":0.245},
{"t":1994.125,"lo":-0.018,"pe":0.110,"hi":0.246},{"t":1994.375,"lo":-0.022,"pe":0.106,"hi":0.240},{"t":1994.625,"lo":-0.020,"pe":0.106,"hi":0.238},{"t":1994.875,"lo":-0.018,"pe":0.107,"hi":0.238},
{"t":1995.125,"lo":-0.016,"pe":0.108,"hi":0.238},{"t":1995.375,"lo":-0.014,"pe":0.110,"hi":0.237},{"t":1995.625,"lo":-0.012,"pe":0.111,"hi":0.236},{"t":1995.875,"lo":-0.010,"pe":0.112,"hi":0.236},
{"t":1996.125,"lo":-0.008,"pe":0.113,"hi":0.236},{"t":1996.375,"lo":-0.006,"pe":0.114,"hi":0.237},{"t":1996.625,"lo":-0.004,"pe":0.115,"hi":0.238},{"t":1996.875,"lo":-0.002,"pe":0.117,"hi":0.240},
{"t":1997.125,"lo":0.000,"pe":0.118,"hi":0.242},{"t":1997.375,"lo":0.002,"pe":0.118,"hi":0.242},{"t":1997.625,"lo":0.004,"pe":0.118,"hi":0.241},{"t":1997.875,"lo":0.004,"pe":0.117,"hi":0.240},
{"t":1998.125,"lo":0.003,"pe":0.116,"hi":0.238},{"t":1998.375,"lo":-0.002,"pe":0.110,"hi":0.228},{"t":1998.625,"lo":-0.004,"pe":0.108,"hi":0.225},{"t":1998.875,"lo":-0.004,"pe":0.108,"hi":0.224},
{"t":1999.125,"lo":-0.005,"pe":0.106,"hi":0.222},{"t":1999.375,"lo":-0.008,"pe":0.100,"hi":0.215},{"t":1999.625,"lo":-0.010,"pe":0.096,"hi":0.208},{"t":1999.875,"lo":-0.012,"pe":0.092,"hi":0.200},
{"t":2000.125,"lo":-0.012,"pe":0.090,"hi":0.195},{"t":2000.375,"lo":-0.008,"pe":0.090,"hi":0.192},{"t":2000.625,"lo":0.000,"pe":0.092,"hi":0.193},{"t":2000.875,"lo":0.004,"pe":0.093,"hi":0.192},
{"t":2001.125,"lo":0.006,"pe":0.094,"hi":0.192},{"t":2001.375,"lo":0.008,"pe":0.095,"hi":0.190},{"t":2001.625,"lo":0.010,"pe":0.096,"hi":0.188},{"t":2001.875,"lo":0.010,"pe":0.096,"hi":0.186}
],
"g":[
{"t":1980.125,"lo":-15.36,"pe":-9.00,"hi":-2.60},{"t":1980.375,"lo":-15.94,"pe":-9.83,"hi":-3.61},{"t":1980.625,"lo":-15.61,"pe":-9.72,"hi":-3.76},{"t":1980.875,"lo":-11.46,"pe":-6.76,"hi":-1.52},
{"t":1981.125,"lo":-6.94,"pe":-1.77,"hi":3.43},{"t":1981.375,"lo":-4.95,"pe":-0.36,"hi":4.37},{"t":1981.625,"lo":-4.84,"pe":-0.33,"hi":4.26},{"t":1981.875,"lo":-5.49,"pe":-0.72,"hi":4.08},
{"t":1982.125,"lo":-5.31,"pe":-0.61,"hi":4.16},{"t":1982.375,"lo":-5.67,"pe":-1.08,"hi":3.43},{"t":1982.625,"lo":-6.69,"pe":-2.31,"hi":2.10},{"t":1982.875,"lo":-6.83,"pe":-2.60,"hi":1.63},
{"t":1983.125,"lo":-7.01,"pe":-2.78,"hi":1.48},{"t":1983.375,"lo":-6.87,"pe":-2.67,"hi":1.45},{"t":1983.625,"lo":-6.83,"pe":-2.71,"hi":1.34},{"t":1983.875,"lo":-6.32,"pe":-2.24,"hi":1.92},
{"t":1984.125,"lo":-5.57,"pe":-1.70,"hi":2.20},{"t":1984.375,"lo":-5.13,"pe":-1.52,"hi":2.17},{"t":1984.625,"lo":-4.84,"pe":-1.48,"hi":1.92},{"t":1984.875,"lo":-4.41,"pe":-1.41,"hi":1.63},
{"t":1985.125,"lo":-2.96,"pe":-0.25,"hi":2.46},{"t":1985.375,"lo":-1.88,"pe":0.40,"hi":2.71},{"t":1985.625,"lo":-1.63,"pe":0.36,"hi":2.42},{"t":1985.875,"lo":-1.08,"pe":0.83,"hi":2.75},
{"t":1986.125,"lo":-1.19,"pe":0.65,"hi":2.46},{"t":1986.375,"lo":-0.98,"pe":0.65,"hi":2.35},{"t":1986.625,"lo":-0.98,"pe":0.54,"hi":2.10},{"t":1986.875,"lo":-0.94,"pe":0.54,"hi":1.99},
{"t":1987.125,"lo":-0.94,"pe":0.54,"hi":1.99},{"t":1987.375,"lo":-0.90,"pe":0.54,"hi":2.10},{"t":1987.625,"lo":-0.90,"pe":0.54,"hi":2.06},{"t":1987.875,"lo":-0.87,"pe":0.54,"hi":2.02},
{"t":1988.125,"lo":-0.87,"pe":0.51,"hi":1.92},{"t":1988.375,"lo":-0.98,"pe":0.25,"hi":1.48},{"t":1988.625,"lo":-0.98,"pe":0.07,"hi":1.19},{"t":1988.875,"lo":-0.72,"pe":0.22,"hi":1.19},
{"t":1989.125,"lo":-0.61,"pe":0.18,"hi":1.08},{"t":1989.375,"lo":-0.43,"pe":0.33,"hi":1.01},{"t":1989.625,"lo":-0.40,"pe":0.29,"hi":0.90},{"t":1989.875,"lo":-0.43,"pe":0.22,"hi":0.83},
{"t":1990.125,"lo":-0.47,"pe":0.11,"hi":0.76},{"t":1990.375,"lo":-0.45,"pe":0.11,"hi":0.69},{"t":1990.625,"lo":-0.43,"pe":0.11,"hi":0.68},{"t":1990.875,"lo":-0.45,"pe":0.07,"hi":0.61},
{"t":1991.125,"lo":-0.45,"pe":0.05,"hi":0.58},{"t":1991.375,"lo":-0.46,"pe":0.04,"hi":0.54},{"t":1991.625,"lo":-0.47,"pe":0.02,"hi":0.50},{"t":1991.875,"lo":-0.47,"pe":0.00,"hi":0.47},
{"t":1992.125,"lo":-0.48,"pe":-0.02,"hi":0.43},{"t":1992.375,"lo":-0.48,"pe":-0.03,"hi":0.40},{"t":1992.625,"lo":-0.49,"pe":-0.04,"hi":0.39},{"t":1992.875,"lo":-0.50,"pe":-0.05,"hi":0.36},
{"t":1993.125,"lo":-0.52,"pe":-0.06,"hi":0.33},{"t":1993.375,"lo":-0.54,"pe":-0.07,"hi":0.32},{"t":1993.625,"lo":-0.53,"pe":-0.08,"hi":0.29},{"t":1993.875,"lo":-0.46,"pe":-0.05,"hi":0.33},
{"t":1994.125,"lo":-0.44,"pe":-0.05,"hi":0.30},{"t":1994.375,"lo":-0.42,"pe":-0.05,"hi":0.28},{"t":1994.625,"lo":-0.41,"pe":-0.04,"hi":0.27},{"t":1994.875,"lo":-0.40,"pe":-0.04,"hi":0.27},
{"t":1995.125,"lo":-0.39,"pe":-0.04,"hi":0.26},{"t":1995.375,"lo":-0.38,"pe":-0.04,"hi":0.26},{"t":1995.625,"lo":-0.37,"pe":-0.03,"hi":0.25},{"t":1995.875,"lo":-0.36,"pe":-0.03,"hi":0.25},
{"t":1996.125,"lo":-0.35,"pe":-0.03,"hi":0.24},{"t":1996.375,"lo":-0.34,"pe":-0.03,"hi":0.24},{"t":1996.625,"lo":-0.33,"pe":-0.02,"hi":0.23},{"t":1996.875,"lo":-0.32,"pe":-0.02,"hi":0.22},
{"t":1997.125,"lo":-0.31,"pe":-0.02,"hi":0.22},{"t":1997.375,"lo":-0.30,"pe":-0.02,"hi":0.22},{"t":1997.625,"lo":-0.30,"pe":-0.02,"hi":0.21},{"t":1997.875,"lo":-0.29,"pe":-0.02,"hi":0.21},
{"t":1998.125,"lo":-0.28,"pe":-0.01,"hi":0.22},{"t":1998.375,"lo":-0.27,"pe":-0.01,"hi":0.23},{"t":1998.625,"lo":-0.27,"pe":0.00,"hi":0.25},{"t":1998.875,"lo":-0.25,"pe":0.01,"hi":0.26},
{"t":1999.125,"lo":-0.24,"pe":0.01,"hi":0.26},{"t":1999.375,"lo":-0.23,"pe":0.02,"hi":0.27},{"t":1999.625,"lo":-0.22,"pe":0.02,"hi":0.27},{"t":1999.875,"lo":-0.21,"pe":0.02,"hi":0.28},
{"t":2000.125,"lo":-0.20,"pe":0.03,"hi":0.28},{"t":2000.375,"lo":-0.19,"pe":0.03,"hi":0.28},{"t":2000.625,"lo":-0.18,"pe":0.03,"hi":0.27},{"t":2000.875,"lo":-0.17,"pe":0.03,"hi":0.26},
{"t":2001.125,"lo":-0.17,"pe":0.03,"hi":0.25},{"t":2001.375,"lo":-0.16,"pe":0.03,"hi":0.24},{"t":2001.625,"lo":-0.16,"pe":0.03,"hi":0.23},{"t":2001.875,"lo":-0.16,"pe":0.03,"hi":0.22}
],
"h":[
{"t":1980.125,"lo":50,"pe":175,"hi":302},{"t":1980.375,"lo":69,"pe":192,"hi":314},{"t":1980.625,"lo":72,"pe":190,"hi":306},{"t":1980.875,"lo":31,"pe":131,"hi":230},
{"t":1981.125,"lo":-70,"pe":33,"hi":135},{"t":1981.375,"lo":-89,"pe":4,"hi":98},{"t":1981.625,"lo":-87,"pe":4,"hi":94},{"t":1981.875,"lo":-83,"pe":13,"hi":108},
{"t":1982.125,"lo":-83,"pe":10,"hi":104},{"t":1982.375,"lo":-69,"pe":21,"hi":111},{"t":1982.625,"lo":-41,"pe":47,"hi":131},{"t":1982.875,"lo":-31,"pe":51,"hi":135},
{"t":1983.125,"lo":-29,"pe":55,"hi":138},{"t":1983.375,"lo":-30,"pe":53,"hi":136},{"t":1983.625,"lo":-28,"pe":54,"hi":133},{"t":1983.875,"lo":-38,"pe":43,"hi":125},
{"t":1984.125,"lo":-45,"pe":35,"hi":111},{"t":1984.375,"lo":-45,"pe":30,"hi":103},{"t":1984.625,"lo":-39,"pe":29,"hi":96},{"t":1984.875,"lo":-33,"pe":28,"hi":87},
{"t":1985.125,"lo":-48,"pe":8,"hi":60},{"t":1985.375,"lo":-54,"pe":-7,"hi":39},{"t":1985.625,"lo":-48,"pe":-7,"hi":33},{"t":1985.875,"lo":-55,"pe":-16,"hi":23},
{"t":1986.125,"lo":-49,"pe":-13,"hi":24},{"t":1986.375,"lo":-47,"pe":-13,"hi":20},{"t":1986.625,"lo":-42,"pe":-11,"hi":20},{"t":1986.875,"lo":-41,"pe":-10,"hi":18},
{"t":1987.125,"lo":-41,"pe":-10,"hi":18},{"t":1987.375,"lo":-42,"pe":-10,"hi":18},{"t":1987.625,"lo":-42,"pe":-10,"hi":18},{"t":1987.875,"lo":-42,"pe":-10,"hi":18},
{"t":1988.125,"lo":-39,"pe":-9,"hi":17},{"t":1988.375,"lo":-30,"pe":-4,"hi":20},{"t":1988.625,"lo":-23,"pe":-1,"hi":20},{"t":1988.875,"lo":-24,"pe":-5,"hi":14},
{"t":1989.125,"lo":-21,"pe":-5,"hi":13},{"t":1989.375,"lo":-20,"pe":-7,"hi":8},{"t":1989.625,"lo":-18,"pe":-7,"hi":7},{"t":1989.875,"lo":-14,"pe":-4,"hi":7},
{"t":1990.125,"lo":-13,"pe":-3,"hi":8},{"t":1990.375,"lo":-12,"pe":-3,"hi":8},{"t":1990.625,"lo":-12,"pe":-2,"hi":8},{"t":1990.875,"lo":-11,"pe":-2,"hi":9},
{"t":1991.125,"lo":-10,"pe":-2,"hi":8},{"t":1991.375,"lo":-10,"pe":-1,"hi":8},{"t":1991.625,"lo":-9,"pe":-1,"hi":8},{"t":1991.875,"lo":-9,"pe":-1,"hi":8},
{"t":1992.125,"lo":-8,"pe":0,"hi":9},{"t":1992.375,"lo":-8,"pe":0,"hi":9},{"t":1992.625,"lo":-7,"pe":0,"hi":9},{"t":1992.875,"lo":-7,"pe":0,"hi":9},
{"t":1993.125,"lo":-7,"pe":0,"hi":9},{"t":1993.375,"lo":-6,"pe":1,"hi":9},{"t":1993.625,"lo":-6,"pe":1,"hi":10},{"t":1993.875,"lo":-5,"pe":2,"hi":10},
{"t":1994.125,"lo":-6,"pe":1,"hi":9},{"t":1994.375,"lo":-6,"pe":1,"hi":8},{"t":1994.625,"lo":-5,"pe":1,"hi":8},{"t":1994.875,"lo":-5,"pe":0,"hi":7},
{"t":1995.125,"lo":-5,"pe":0,"hi":7},{"t":1995.375,"lo":-5,"pe":0,"hi":7},{"t":1995.625,"lo":-5,"pe":0,"hi":7},{"t":1995.875,"lo":-5,"pe":0,"hi":7},
{"t":1996.125,"lo":-5,"pe":0,"hi":7},{"t":1996.375,"lo":-4,"pe":0,"hi":7},{"t":1996.625,"lo":-4,"pe":0,"hi":7},{"t":1996.875,"lo":-4,"pe":0,"hi":7},
{"t":1997.125,"lo":-4,"pe":0,"hi":7},{"t":1997.375,"lo":-4,"pe":0,"hi":7},{"t":1997.625,"lo":-4,"pe":0,"hi":7},{"t":1997.875,"lo":-4,"pe":0,"hi":7},
{"t":1998.125,"lo":-4,"pe":-1,"hi":6},{"t":1998.375,"lo":-5,"pe":-1,"hi":6},{"t":1998.625,"lo":-5,"pe":-1,"hi":6},{"t":1998.875,"lo":-5,"pe":-1,"hi":5},
{"t":1999.125,"lo":-5,"pe":-1,"hi":5},{"t":1999.375,"lo":-5,"pe":-1,"hi":5},{"t":1999.625,"lo":-5,"pe":-1,"hi":5},{"t":1999.875,"lo":-5,"pe":-1,"hi":5},
{"t":2000.125,"lo":-5,"pe":-1,"hi":4},{"t":2000.375,"lo":-5,"pe":-1,"hi":4},{"t":2000.625,"lo":-5,"pe":-2,"hi":4},{"t":2000.875,"lo":-5,"pe":-2,"hi":4},
{"t":2001.125,"lo":-5,"pe":-2,"hi":4},{"t":2001.375,"lo":-4,"pe":-2,"hi":3},{"t":2001.625,"lo":-4,"pe":-2,"hi":3},{"t":2001.875,"lo":-4,"pe":-2,"hi":3}
]
},
"columns":2,
"spacing":{"row":14.2,"column":16},
"concat":[
{"title":"Δlog(pxudl /efkrks)","width":410,"height":220,"data":{"name":"a"},"transform":[{"fold":["lo","pe","hi"],"as":["s","v"]}],"mark":{"type":"line","strokeWidth":2},
"encoding":{"x":{"field":"t","type":"quantitative","title":null,"scale":{"domain":[1980,2002],"nice":false,"zero":false},"axis":{"values":[1980,1981,1982,1983,1984,1985,1986,1987,1988,1989,1990,1991,1992,1993,1994,1995,1996,1997,1998,1999,2000,2001],"labelExpr":"datum.value==1980?'80':datum.value==1985?'85':datum.value==1990?'90':datum.value==1995?'95':datum.value==2000?'00':''"}},
"y":{"field":"v","type":"quantitative","title":null,"scale":{"domain":[0,1.2],"nice":false,"zero":false},"axis":{"values":[0,0.2,0.4,0.6,0.8,1,1.2],"format":".1f"}},
"color":{"field":"s","type":"nominal","scale":{"domain":["lo","pe","hi"],"range":["#0f9bd7","#f9a11b","#99165e"]},"legend":{"labelExpr":"datum.label=='lo'?'Nedre grænse':datum.label=='pe'?'Punktestimat':'Øvre grænse'"}}}},
{"title":"Δlog(efkrks)","width":407,"height":220,"data":{"name":"b"},"transform":[{"fold":["lo","pe","hi"],"as":["s","v"]}],"mark":{"type":"line","strokeWidth":2},
"encoding":{"x":{"field":"t","type":"quantitative","title":null,"scale":{"domain":[1980,2002],"nice":false,"zero":false},"axis":{"values":[1980,1981,1982,1983,1984,1985,1986,1987,1988,1989,1990,1991,1992,1993,1994,1995,1996,1997,1998,1999,2000,2001],"labelExpr":"datum.value==1980?'80':datum.value==1985?'85':datum.value==1990?'90':datum.value==1995?'95':datum.value==2000?'00':''"}},
"y":{"field":"v","type":"quantitative","title":null,"scale":{"domain":[-0.3,0.9],"nice":false,"zero":false},"axis":{"values":[-0.3,-0.15,0,0.15,0.3,0.45,0.6,0.75,0.9],"format":".2f"}},
"color":{"field":"s","type":"nominal","scale":{"domain":["lo","pe","hi"],"range":["#0f9bd7","#f9a11b","#99165e"]},"legend":{"labelExpr":"datum.label=='lo'?'Nedre grænse':datum.label=='pe'?'Punktestimat':'Øvre grænse'"}}}},
{"title":"Δlog(mulc)","width":410,"height":220,"data":{"name":"c"},"transform":[{"fold":["lo","pe","hi"],"as":["s","v"]}],"mark":{"type":"line","strokeWidth":2},
"encoding":{"x":{"field":"t","type":"quantitative","title":null,"scale":{"domain":[1980,2002],"nice":false,"zero":false},"axis":{"values":[1980,1981,1982,1983,1984,1985,1986,1987,1988,1989,1990,1991,1992,1993,1994,1995,1996,1997,1998,1999,2000,2001],"labelExpr":"datum.value==1980?'80':datum.value==1985?'85':datum.value==1990?'90':datum.value==1995?'95':datum.value==2000?'00':''"}},
"y":{"field":"v","type":"quantitative","title":null,"scale":{"domain":[-0.8,1.6],"nice":false,"zero":false},"axis":{"values":[-0.8,-0.4,0,0.4,0.8,1.2,1.6],"format":".1f"}},
"color":{"field":"s","type":"nominal","scale":{"domain":["lo","pe","hi"],"range":["#0f9bd7","#f9a11b","#99165e"]},"legend":{"labelExpr":"datum.label=='lo'?'Nedre grænse':datum.label=='pe'?'Punktestimat':'Øvre grænse'"}}}},
{"title":"log(pxden₋₁ /efkrks₋₁)","width":407,"height":220,"data":{"name":"d"},"transform":[{"fold":["lo","pe","hi"],"as":["s","v"]}],"mark":{"type":"line","strokeWidth":2},
"encoding":{"x":{"field":"t","type":"quantitative","title":null,"scale":{"domain":[1980,2002],"nice":false,"zero":false},"axis":{"values":[1980,1981,1982,1983,1984,1985,1986,1987,1988,1989,1990,1991,1992,1993,1994,1995,1996,1997,1998,1999,2000,2001],"labelExpr":"datum.value==1980?'80':datum.value==1985?'85':datum.value==1990?'90':datum.value==1995?'95':datum.value==2000?'00':''"}},
"y":{"field":"v","type":"quantitative","title":null,"scale":{"domain":[-1.6,0],"nice":false,"zero":false},"axis":{"values":[-1.6,-1.4,-1.2,-1,-0.8,-0.6,-0.4,-0.2,0],"format":".1f"}},
"color":{"field":"s","type":"nominal","scale":{"domain":["lo","pe","hi"],"range":["#0f9bd7","#f9a11b","#99165e"]},"legend":{"labelExpr":"datum.label=='lo'?'Nedre grænse':datum.label=='pe'?'Punktestimat':'Øvre grænse'"}}}},
{"title":"log(pxudl₋₁/efkrks₋₁)","width":410,"height":220,"data":{"name":"e"},"transform":[{"fold":["lo","pe","hi"],"as":["s","v"]}],"mark":{"type":"line","strokeWidth":2},
"encoding":{"x":{"field":"t","type":"quantitative","title":null,"scale":{"domain":[1980,2002],"nice":false,"zero":false},"axis":{"values":[1980,1981,1982,1983,1984,1985,1986,1987,1988,1989,1990,1991,1992,1993,1994,1995,1996,1997,1998,1999,2000,2001],"labelExpr":"datum.value==1980?'80':datum.value==1985?'85':datum.value==1990?'90':datum.value==1995?'95':datum.value==2000?'00':''"}},
"y":{"field":"v","type":"quantitative","title":null,"scale":{"domain":[0,0.6],"nice":false,"zero":false},"axis":{"values":[0,0.1,0.2,0.3,0.4,0.5,0.6],"format":".1f"}},
"color":{"field":"s","type":"nominal","scale":{"domain":["lo","pe","hi"],"range":["#0f9bd7","#f9a11b","#99165e"]},"legend":{"labelExpr":"datum.label=='lo'?'Nedre grænse':datum.label=='pe'?'Punktestimat':'Øvre grænse'"}}}},
{"title":"log(mulc₋₁)","width":407,"height":220,"data":{"name":"f"},"transform":[{"fold":["lo","pe","hi"],"as":["s","v"]}],"mark":{"type":"line","strokeWidth":2},
"encoding":{"x":{"field":"t","type":"quantitative","title":null,"scale":{"domain":[1980,2002],"nice":false,"zero":false},"axis":{"values":[1980,1981,1982,1983,1984,1985,1986,1987,1988,1989,1990,1991,1992,1993,1994,1995,1996,1997,1998,1999,2000,2001],"labelExpr":"datum.value==1980?'80':datum.value==1985?'85':datum.value==1990?'90':datum.value==1995?'95':datum.value==2000?'00':''"}},
"y":{"field":"v","type":"quantitative","title":null,"scale":{"domain":[-0.4,2.8],"nice":false,"zero":false},"axis":{"values":[-0.4,0,0.4,0.8,1.2,1.6,2,2.4,2.8],"format":".1f"}},
"color":{"field":"s","type":"nominal","scale":{"domain":["lo","pe","hi"],"range":["#0f9bd7","#f9a11b","#99165e"]},"legend":{"labelExpr":"datum.label=='lo'?'Nedre grænse':datum.label=='pe'?'Punktestimat':'Øvre grænse'"}}}},
{"title":"trend","width":410,"height":221,"data":{"name":"g"},"transform":[{"fold":["lo","pe","hi"],"as":["s","v"]}],"mark":{"type":"line","strokeWidth":2},
"encoding":{"x":{"field":"t","type":"quantitative","title":null,"scale":{"domain":[1980,2002],"nice":false,"zero":false},"axis":{"values":[1980,1981,1982,1983,1984,1985,1986,1987,1988,1989,1990,1991,1992,1993,1994,1995,1996,1997,1998,1999,2000,2001],"labelExpr":"datum.value==1980?'80':datum.value==1985?'85':datum.value==1990?'90':datum.value==1995?'95':datum.value==2000?'00':''"}},
"y":{"field":"v","type":"quantitative","title":null,"scale":{"domain":[-18,6],"nice":false,"zero":false},"axis":{"values":[-18,-15,-12,-9,-6,-3,0,3,6],"format":".1f"}},
"color":{"field":"s","type":"nominal","scale":{"domain":["lo","pe","hi"],"range":["#0f9bd7","#f9a11b","#99165e"]},"legend":{"labelExpr":"datum.label=='lo'?'Nedre grænse':datum.label=='pe'?'Punktestimat':'Øvre grænse'"}}}},
{"title":"Konstant","width":407,"height":221,"data":{"name":"h"},"transform":[{"fold":["lo","pe","hi"],"as":["s","v"]}],"mark":{"type":"line","strokeWidth":2},
"encoding":{"x":{"field":"t","type":"quantitative","title":null,"scale":{"domain":[1980,2002],"nice":false,"zero":false},"axis":{"values":[1980,1981,1982,1983,1984,1985,1986,1987,1988,1989,1990,1991,1992,1993,1994,1995,1996,1997,1998,1999,2000,2001],"labelExpr":"datum.value==1980?'80':datum.value==1985?'85':datum.value==1990?'90':datum.value==1995?'95':datum.value==2000?'00':''"}},
"y":{"field":"v","type":"quantitative","title":null,"scale":{"domain":[-100,350],"nice":false,"zero":false},"axis":{"values":[-100,-50,0,50,100,150,200,250,300,350],"format":"d"}},
"color":{"field":"s","type":"nominal","scale":{"domain":["lo","pe","hi"],"range":["#0f9bd7","#f9a11b","#99165e"]},"legend":{"labelExpr":"datum.label=='lo'?'Nedre grænse':datum.label=='pe'?'Punktestimat':'Øvre grænse'"}}}}
]
}
